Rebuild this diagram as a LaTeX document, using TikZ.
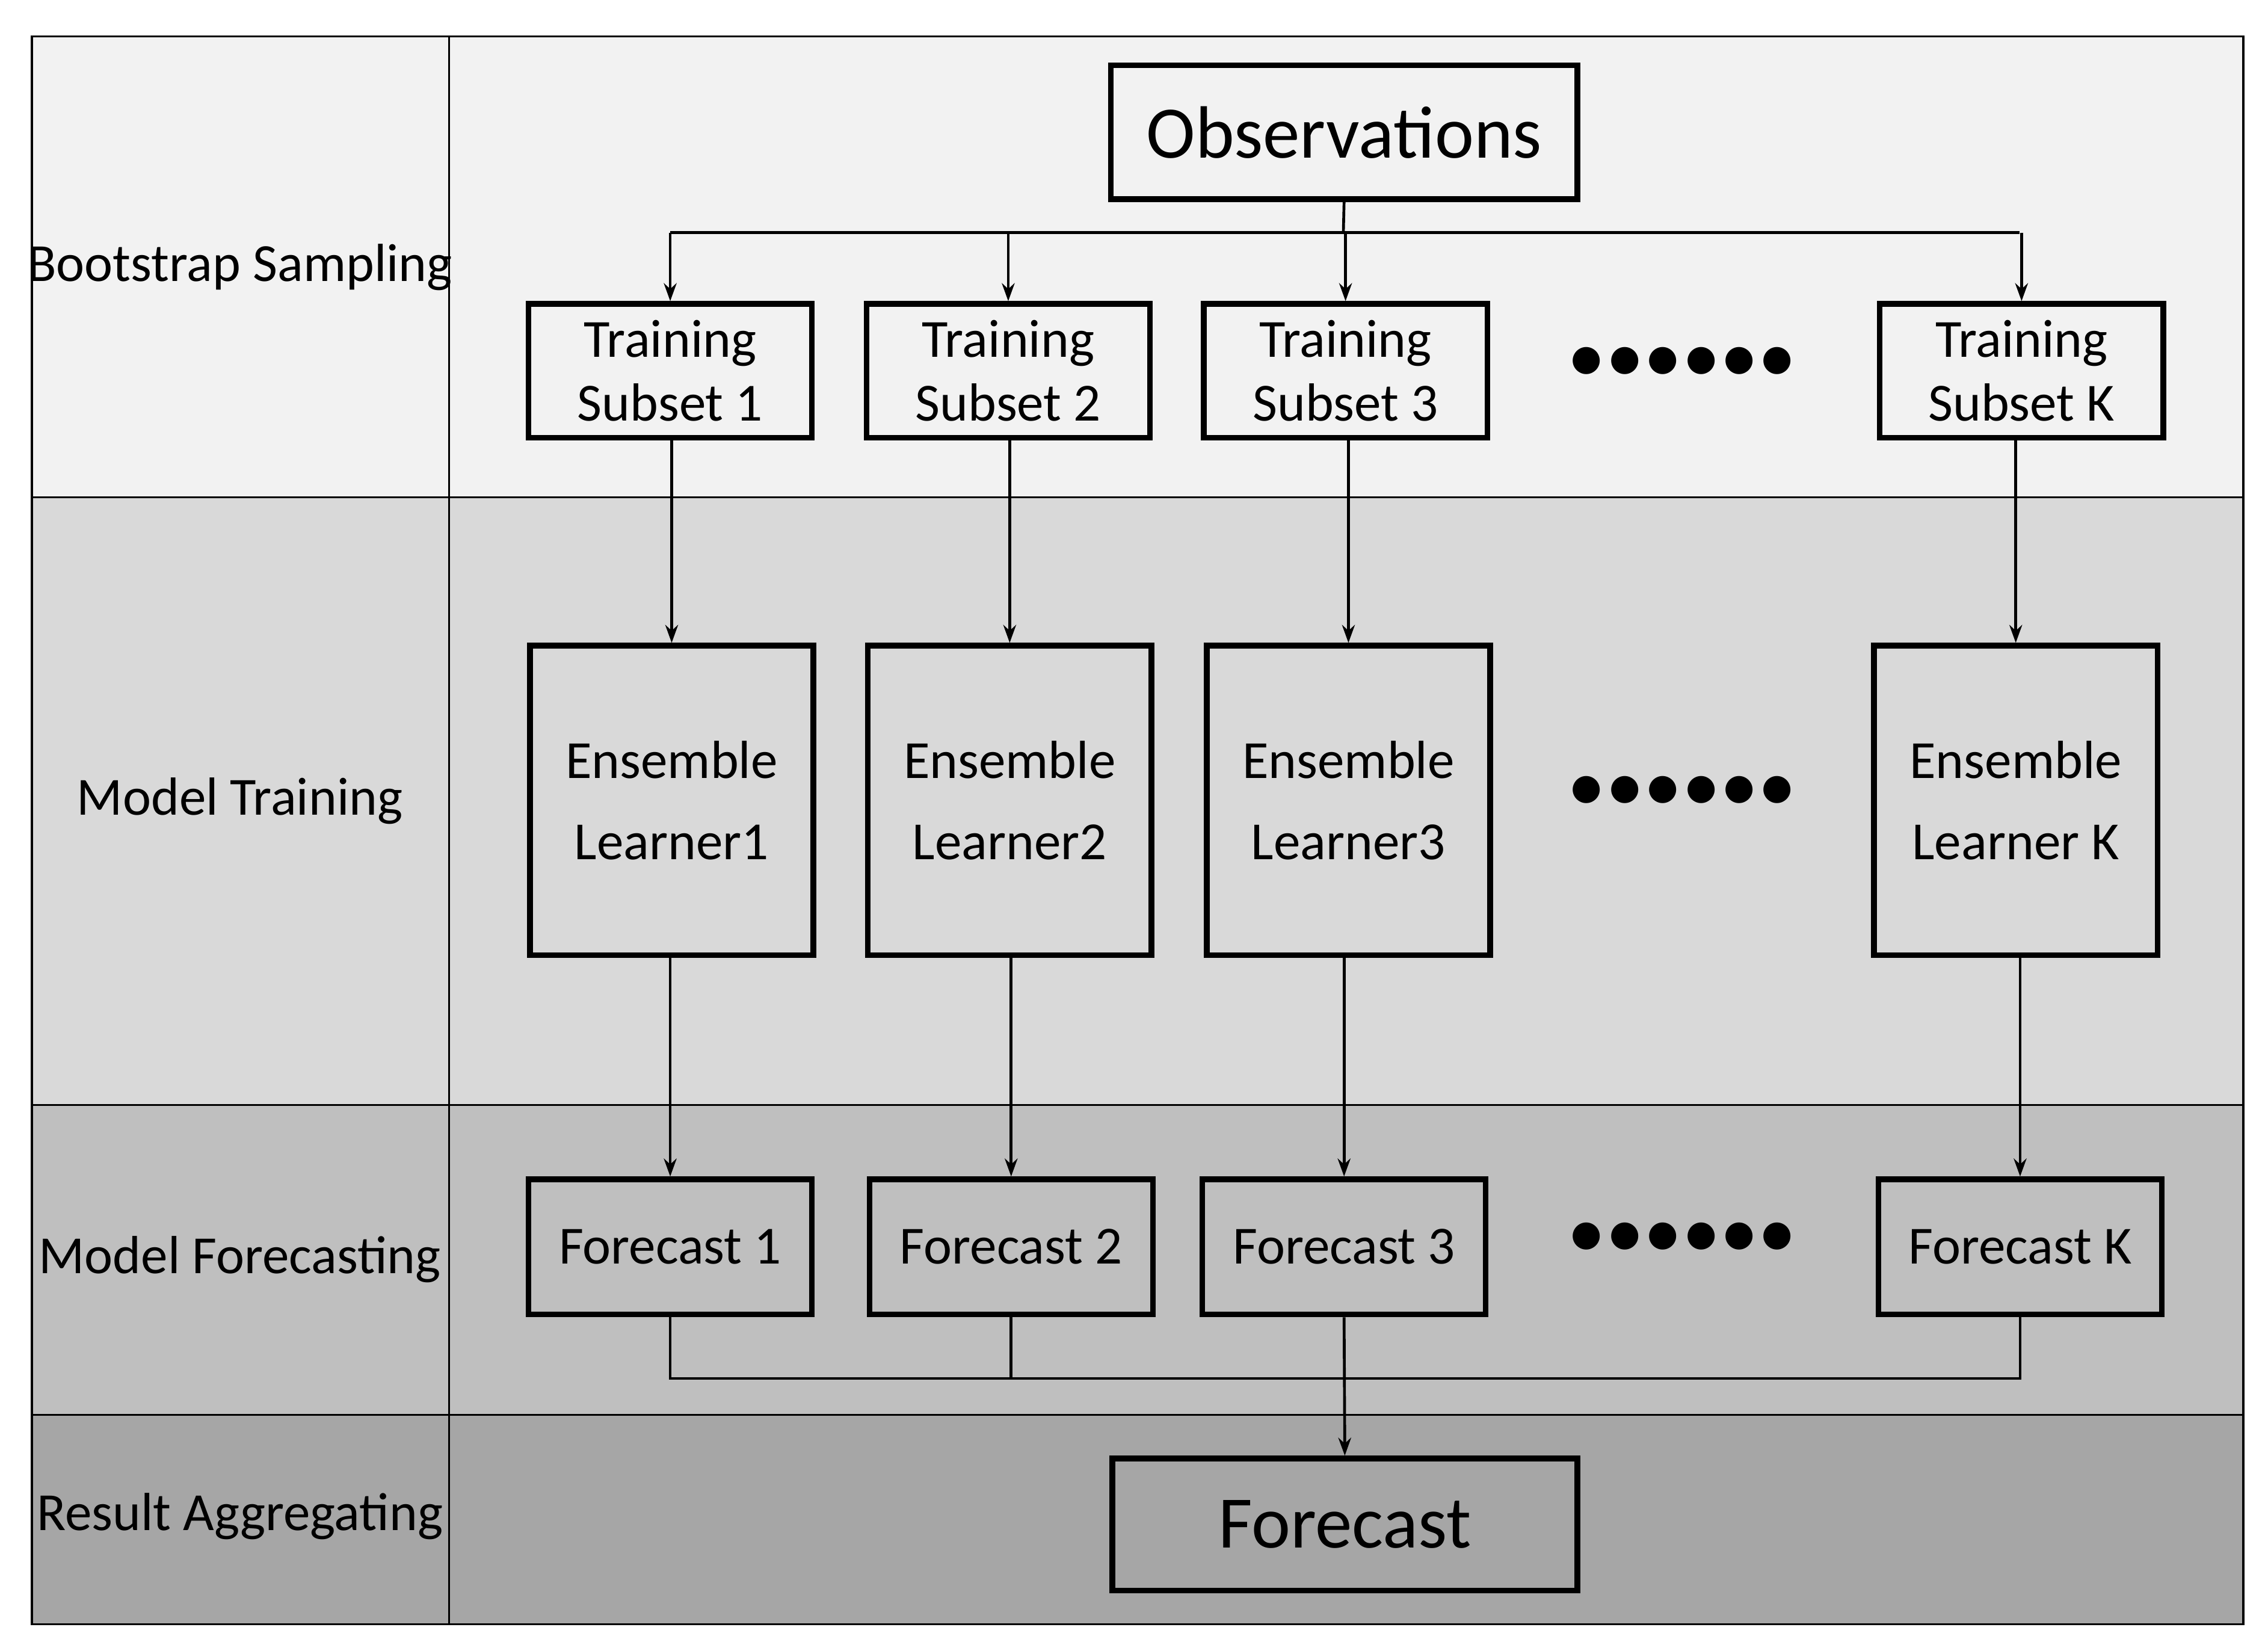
\documentclass[tikz,border=0pt]{standalone}
\usepackage{fontspec}
\setmainfont{Carlito}
\usetikzlibrary{arrows.meta}
\begin{document}
\begin{tikzpicture}[x=0.02cm,y=-0.02cm,
 box/.style={draw=black,line width=2.2pt,inner sep=0pt,align=center,font=\fontsize{21}{25}\selectfont},
 lab/.style={font=\fontsize{21}{25}\selectfont},
 arr/.style={line width=1.1pt,-{Stealth[length=7pt,width=5pt]}},
 ln/.style={line width=1.1pt},
 dots/.style={font=\fontsize{30}{30}\selectfont}]
\useasboundingbox (0,0) rectangle (1560,1131);
\fill[black!5] (22,25) rectangle (1543,342);
\fill[black!15] (22,342) rectangle (1543,760);
\fill[black!25] (22,760) rectangle (1543,973);
\fill[black!35] (22,973) rectangle (1543,1117);
\draw[line width=0.8pt] (22,25) rectangle (1543,1117);
\draw[line width=0.8pt] (309,25) -- (309,1117);
\foreach \y in {342,760,973} \draw[line width=0.8pt] (22,\y) -- (1543,\y);
\node[lab] at (165,184) {Bootstrap Sampling};
\node[lab] at (165,551) {Model Training};
\node[lab] at (165,866) {Model Forecasting};
\node[lab] at (165,1043) {Result Aggregating};

\node[box,minimum width=321\pgflinewidth,font=\fontsize{29}{32}\selectfont,minimum width=6.42cm,minimum height=1.84cm] (obs) at (924.5,91) {Observations};
\node[box,minimum width=6.4cm,minimum height=1.82cm,font=\fontsize{29}{32}\selectfont] (fin) at (925,1048.5) {Forecast};

\foreach \n/\x/\t in {s1/461/Training\\Subset 1,s2/693.5/Training\\Subset 2,s3/925.5/Training\\Subset 3,sK/1390.5/Training\\Subset K}
  \node[box,minimum width=3.9cm,minimum height=1.84cm] (\n) at (\x,255) {\t};
\foreach \n/\x/\t in {l1/462/Ensemble\\Learner1,l2/694.5/Ensemble\\Learner2,l3/927.5/Ensemble\\Learner3,lK/1386.5/Ensemble\\Learner K}
  \node[box,minimum width=3.9cm,minimum height=4.26cm,font=\fontsize{21}{32}\selectfont] (\n) at (\x,550.5) {\t};
\foreach \n/\x/\t in {f1/461/Forecast 1,f2/695.5/Forecast 2,f3/924.5/Forecast 3,fK/1389.5/Forecast K}
  \node[box,minimum width=3.9cm,minimum height=1.86cm] (\n) at (\x,857.5) {\t};

\foreach \y in {255,550,857} \node[dots] at (1157,\y-4) {••••••};

\coordinate (hc) at (924,160);
\draw[ln] (obs.south) -- (hc);
\draw[ln] (461,160) -- (1389,160);
\foreach \n in {s1,s2,s3,sK} \draw[arr] (\n.north |- hc) -- (\n.north);
\foreach \a/\b in {s1/l1,s2/l2,s3/l3,sK/lK} \draw[arr] (\a.south -| \b.north) -- (\b.north);
\foreach \a/\b in {l1/f1,l2/f2,l3/f3,lK/fK} \draw[arr] (\a.south -| \b.north) -- (\b.north);
\coordinate (bc) at (924,948);
\draw[ln] (f1.south) -- (f1.south |- bc) -- (fK.south |- bc) -- (fK.south);
\draw[ln] (f2.south) -- (f2.south |- bc);
\draw[arr] (f3.south) -- (fin.north);
\end{tikzpicture}
\end{document}
